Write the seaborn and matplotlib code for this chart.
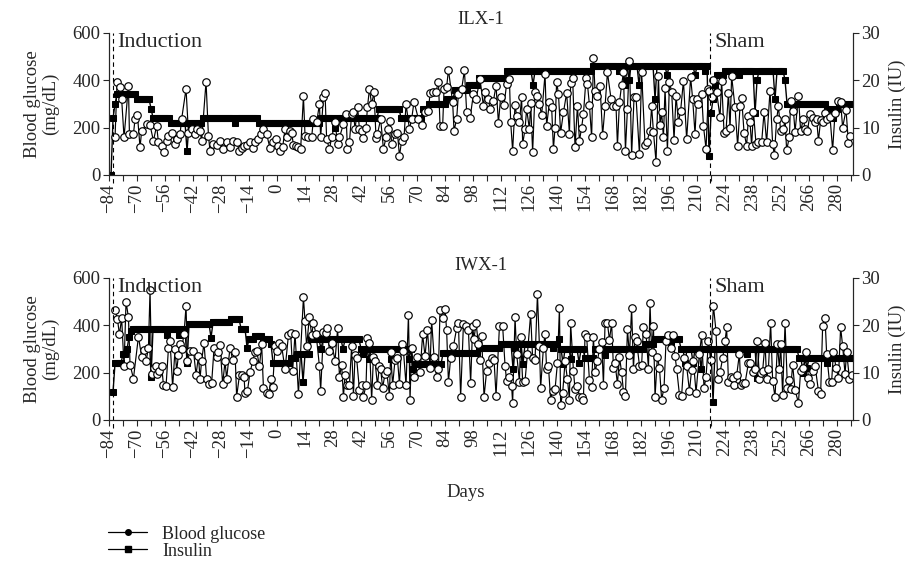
import numpy as np
import matplotlib
matplotlib.use("Agg")
import matplotlib.pyplot as plt
from matplotlib.lines import Line2D
from matplotlib.ticker import MultipleLocator
import seaborn as sns

# Blood glucose (mg/dL) and insulin (IU) per day, two animals: ILX-1 and IWX-1
ilx_day = [-81, -80, -78.5, -77.7, -76.5, -74.3, -73.8, -71.8, -71, -69.8, -68.5, -67.7, -65.2, -63.5,
           -61.8, -60.2, -59.3, -57.7, -56.5, -55.2, -54.3, -52.7, -51, -49.8, -48.5, -47.7, -45.5, -44.3,
           -42.7, -41, -40.2, -38.5, -37.7, -35.5, -34.3, -33.5, -31.8, -30.2, -28.5, -26.8, -25.2, -23.5,
           -21.8, -20.2, -18.8, -17.7, -16.5, -15.2, -13.5, -12.2, -11, -9.3, -8.2, -6.8, -5.2, -3.5, -1.8,
           -0.5, 0.7, 1.5, 2.8, 4, 5.2, 6.5, 7.3, 8.2, 9.5, 10.7, 11.8, 13.2, 14, 15.7, 17.3, 18.2, 19.8,
           21.2, 21.8, 23.2, 24, 24.8, 26.2, 27.3, 29, 30.3, 31.2, 33.2, 34.5, 35.2, 36.2, 37.3, 38.2, 39,
           40.3, 41.2, 42.3, 43.2, 44.5, 45.2, 46.2, 47.3, 48.5, 49.5, 50.2, 51.8, 53.2, 54.5, 55.7, 56.5,
           57.3, 59, 60.2, 61.2, 62.3, 63.5, 64.5, 66.2, 67.3, 68.5, 70.7, 72.3, 74, 75.7, 76.5, 78.2, 79.5,
           80.7, 81.5, 82.8, 83.5, 84.8, 85.7, 87.8, 88.5, 89.8, 90.7, 92.3, 93.7, 94.8, 96.5, 98.2, 99.5,
           101.5, 103.2, 104, 105.7, 106.5, 108.2, 109.5, 110.7, 111.8, 113.5, 114.8, 116.2, 116.8, 117.8,
           119, 119.8, 121.2, 122.3, 122.8, 124, 124.8, 126.2, 126.8, 127.8, 129, 130.2, 131.2, 132.3, 134,
           134.8, 136.2, 137.3, 138.2, 139, 139.8, 140.7, 141.8, 143.2, 144.8, 146.2, 146.8, 147.8, 149,
           150.2, 151.2, 152.3, 153.2, 154.5, 155.2, 156.2, 157.3, 158.2, 159, 160.2, 161.5, 162.8, 164,
           165.2, 167, 168.2, 169.5, 170.2, 171.2, 172.3, 173.2, 174.2, 175.2, 176.2, 177.3, 178.5, 179.5,
           181.2, 182.3, 184, 184.8, 186.5, 187.3, 188.2, 189.5, 190.7, 191.5, 192.3, 193.2, 194, 195.2,
           196.2, 197.3, 198.5, 199.5, 200.7, 201.8, 203.2, 204.8, 206.8, 207.8, 209, 209.8, 210.7, 212.3,
           213.2, 214.5, 215.7, 216.2, 217.3, 218.2, 219.8, 221.5, 222.3, 223.5, 224.5, 225.7, 226.5, 227.3,
           229, 230.3, 231.5, 232.3, 233.5, 234.8, 235.7, 236.5, 237.3, 238.2, 239.5, 240.7, 242.3, 243.5,
           244.8, 246.5, 247.8, 248.7, 249.8, 250.7, 251.8, 253.2, 254, 254.8, 256.2, 256.8, 258.2, 259,
           260.7, 261.8, 263.2, 264, 265.2, 266.5, 267.8, 269, 269.8, 270.7, 271.8, 272.8, 274, 275.2, 276.5,
           277.8, 279, 280.7, 281.8, 282.8, 284.5, 285.7, 286.5]
ilx_glucose = [158, 391, 370, 321, 158, 377, 172, 172, 236, 253, 116, 186, 215, 210,
               144, 208, 137, 123, 97, 144, 165, 179, 130, 151, 172, 236, 363, 179,
               193, 172, 193, 186, 144, 394, 165, 102, 130, 125, 144, 109, 137, 116,
               144, 137, 102, 112, 120, 126, 137, 112, 137, 151, 172, 193, 172, 112, 137,
               151, 123, 102, 116, 193, 158, 186, 179, 126, 120, 116, 109, 332, 165, 158, 158, 236, 222,
               299, 158, 328, 346, 151, 109, 158, 222, 130, 158, 215, 257, 109, 137, 257, 264, 193,
               285, 193, 186, 154, 200, 285, 363, 299, 349, 154, 172, 236, 109, 158, 193, 229,
               130, 172, 179, 80, 144, 158, 299, 193, 236, 309, 236, 210, 264, 271, 346, 349, 352,
               394, 208, 205, 363, 370, 445, 306, 186, 236, 342, 363, 441, 267, 239, 342, 321,
               405, 289, 352, 321, 278, 313, 377, 219, 328, 295, 384, 405, 225, 102,
               295, 250, 222, 328, 130, 193, 278, 193, 304, 97, 352, 335, 299, 253, 426,
               208, 306, 285, 109, 200, 394, 342, 179, 264, 346, 172, 388, 408, 116,
               292, 144, 200, 257, 408, 384, 295, 158, 494, 356, 335, 377, 168, 289,
               433, 321, 289, 289, 123, 306, 380, 433, 102, 278, 483, 83, 328, 328,
               88, 433, 126, 137, 186, 289, 182, 55, 417, 210, 264, 158, 366, 102,
               391, 352, 148, 335, 222, 271, 398, 151, 412, 321, 172, 321, 299, 342,
               208, 109, 363, 356, 328, 402, 349, 243, 398, 179, 186, 346, 196, 417,
               285, 123, 289, 325, 179, 123, 247, 222, 123, 267, 130, 137, 137, 264,
               137, 356, 130, 83, 236, 289, 186, 193, 236, 104, 162, 313, 271, 182,
               332, 186, 236, 193, 186, 257, 239, 222, 236, 144, 233, 222, 261, 236, 243,
               106, 261, 313, 306, 200, 275, 134, 165]

ilx_ins_start = -83
ilx_insulin = ([0, 12, 15] + [17] * 10 + [16] * 7 + [14] + [12] * 9 + [11] * 8 + [5] + [11] * 7
               + [12] * 16 + [11] + [12] * 11 + [11] * 31 + [12] * 7 + [10] + [12] * 21 + [14] * 11
               + [12] * 11 + [14] * 3 + [15] * 9 + [16] * 4 + [18] * 7 + [19] * 5 + [20.5] * 14
               + [22] * 13 + [19] + [22] * 29 + [23] * 13 + [22] + [23] * 2 + [19] + [23] + [20]
               + [23] * 4 + [19] + [23] * 7 + [16] + [23] * 5 + [21] + [23] * 13 + [21] + [23] * 4
               + [22] + [23] + [4] + [13] + [16] + [19] + [21] * 4 + [22] * 7 + [21] + [22] * 7
               + [13] + [20] + [22] * 8 + [16] + [22] * 4 + [20] + [15] * 20 + [14] * 3 + [12]
               + [14] * 2 + [15] * 7)

iwx_day = [-81, -79.8, -78.8, -77.7, -76.5, -75.5, -74.3, -73.5, -71.8, -69.3, -67.7, -66.5, -65.5, -64.3,
           -63.5, -62.7, -61.5, -60.5, -59.8, -58.8, -57.7, -56.8, -55.5, -54.3, -53.5, -52.2, -51, -50.2,
           -49.3, -48.5, -47.7, -46.5, -45.5, -44.8, -43.5, -41.8, -40.5, -39.3, -38.5, -37.7, -36.5, -35.2,
           -33.8, -32.7, -31.5, -30.2, -29.3, -28.5, -27.2, -26, -25.2, -23.5, -22.2, -21, -20.2, -18.8,
           -17.7, -16.5, -16, -14.8, -13.5, -12.2, -11, -10.2, -8.8, -7.7, -6.8, -5.2, -3.8, -3.2, -2.2, -1,
           -0.2, 1.2, 2.3, 4, 5.7, 6.8, 7.8, 9, 10.7, 13.2, 14, 14.8, 16.2, 17.3, 18.2, 19.5, 21.2, 21.8,
           23.2, 24.5, 25.2, 26.2, 27.3, 29, 30.3, 31.2, 32.3, 33.2, 34, 35.2, 36.2, 37.3, 38.2, 39, 39.8,
           41.2, 42.3, 43.2, 44.5, 45.2, 46.2, 47.3, 48.2, 49, 50.2, 51.2, 51.8, 52.8, 54, 54.8, 56.2, 56.8,
           57.8, 59, 60.2, 61.2, 62.3, 63.2, 64.5, 65.7, 66.5, 67.3, 68.5, 69.8, 71.5, 72.8, 74, 75.2, 76.5,
           77.3, 78.5, 79.8, 80.7, 81.5, 83.2, 84, 84.8, 85.7, 86.8, 88.2, 89.8, 90.7, 91.8, 93.2, 94.5,
           95.7, 96.8, 97.8, 98.5, 99.5, 100.7, 101.5, 102.3, 103.5, 104.8, 106.2, 107.3, 108.5, 109.5,
           111.2, 112.8, 114, 114.8, 116.2, 117.3, 117.8, 119, 119.8, 121.2, 121.8, 122.8, 124, 125.2,
           126.8, 127.8, 129, 130.2, 131.2, 131.8, 133.2, 134, 134.8, 135.7, 136.8, 137.8, 139, 140.2,
           141.2, 141.8, 142.8, 144, 145.2, 146.2, 146.8, 148.2, 149, 150.2, 151.2, 152.3, 153.2, 154,
           154.8, 156.2, 157.3, 158.2, 159, 160.2, 161.2, 162.3, 163.2, 164, 165.2, 166.2, 167.3, 168.2,
           169, 170.2, 171.2, 172.3, 173.2, 174.2, 175.2, 176.2, 177.3, 178.2, 179, 179.8, 181.2, 182.3,
           183.2, 184.5, 185.7, 186.5, 187.3, 188.2, 189, 190.2, 191.2, 192.3, 193.5, 194.5, 195.7, 196.8,
           197.8, 199, 199.8, 201.2, 202.3, 203.5, 204.8, 206.2, 207.3, 208.2, 209.5, 211.2, 212.3, 213.5,
           214.5, 215.7, 216.8, 218.2, 219.5, 220.3, 221.5, 222.8, 224, 224.8, 225.7, 226.8, 227.8, 228.7,
           229.8, 231.2, 231.8, 232.8, 234, 235.7, 236.5, 237.8, 239, 240.2, 241.2, 241.8, 242.8, 244,
           244.8, 245.7, 246.8, 247.8, 249, 250.2, 251.2, 251.8, 252.8, 254, 255.2, 256.2, 256.8, 257.8,
           259, 260.7, 261.8, 263.2, 264.5, 265.7, 266.5, 267.8, 269, 270.7, 271.8, 272.8, 274, 274.8,
           276.2, 277.3, 278.2, 279.5, 280.7, 281.8, 282.8, 284, 284.8, 286.2, 287.3]
iwx_glucose = [465, 426, 361, 430, 227, 499, 434, 234, 175, 352, 267, 295, 247, 306,
               548, 195, 221, 230, 195, 208, 227, 149, 143, 303, 332, 139, 299, 208,
               273, 319, 299, 365, 482, 247, 293, 293, 191, 269, 175, 251, 325, 173,
               152, 156, 303, 267, 286, 316, 152, 247, 175, 306, 254, 286, 99, 188,
               191, 182, 112, 123, 201, 247, 286, 293, 227, 319, 136, 116, 110, 175, 139, 312,
               293, 325, 312, 214, 358, 369, 208, 365, 110, 518, 417, 312, 437, 358, 408, 365, 227, 123,
               371, 369, 387, 290, 325, 251, 387, 182, 234, 97, 191, 147, 149, 312, 103, 273, 260,
               126, 147, 97, 149, 345, 325, 84, 267, 247, 147, 230, 214, 136, 195, 208, 103, 286,
               147, 254, 260, 152, 319, 293, 147, 443, 86, 306, 182, 264, 201, 361, 269, 382, 221,
               421, 267, 182, 214, 463, 430, 469, 378, 160, 260, 312, 387, 408, 97, 404, 397,
               378, 156, 395, 343, 410, 319, 254, 356, 97, 208, 241, 260, 254, 103,
               395, 397, 230, 165, 182, 143, 71, 434, 280, 162, 352, 162, 165, 280,
               447, 260, 254, 531, 312, 136, 306, 365, 214, 227, 86, 123, 129, 241,
               473, 64, 112, 247, 173, 86, 408, 208, 129, 143, 99, 97, 86, 365,
               352, 169, 139, 352, 201, 251, 299, 329, 149, 408, 408, 339, 408, 221,
               241, 152, 267, 201, 120, 103, 384, 273, 473, 214, 352, 332, 230, 234,
               391, 365, 217, 492, 286, 397, 97, 267, 221, 86, 136, 335, 358, 306,
               358, 269, 217, 107, 103, 260, 227, 123, 212, 247, 116, 280, 358, 133,
               182, 332, 254, 482, 374, 173, 201, 260, 332, 391, 162, 182, 178, 149,
               188, 280, 149, 156, 156, 241, 241, 201, 214, 332, 175, 199, 208, 325,
               175, 217, 410, 165, 97, 319, 217, 322, 107, 408, 136, 169, 129, 234,
               126, 73, 208, 221, 286, 178, 152, 208, 230, 123, 110, 397, 430, 280,
               162, 162, 286, 221, 178, 391, 312, 195, 286, 175, 191]

iwx_ins_start = -82
iwx_insulin = ([6] + [12] * 4 + [14] * 2 + [15] + [17.5] + [18.7] + [19.3] * 9 + [9] + [19.3] * 7
               + [18] + [19.3] * 5 + [18] + [19.3] * 3 + [12] + [20.2] * 11 + [17.4] + [20.6] * 9
               + [21.3] * 5 + [19.3] * 3 + [15.3] + [17] * 3 + [17.7] * 4 + [17] * 4 + [16] + [12] * 9
               + [13] * 3 + [14] * 3 + [8] + [14] * 3 + [17] * 5 + [15] + [17] * 10 + [15] + [17] * 8
               + [15] + [14] + [15] * 2 + [12.8] + [15] * 10 + [12.8] + [15] * 8 + [12.8] + [15]
               + [10.8] + [11.8] * 14 + [14.1] * 18 + [15.1] * 11 + [16.1] * 6 + [10.8] + [15.1]
               + [16.1] * 3 + [11.9] + [16.1] * 14 + [15.1] + [16.1] * 2 + [17] + [15] + [11.9]
               + [15] * 3 + [12.8] + [15] * 3 + [12.1] + [15] * 2 + [13] * 5 + [15] * 5 + [13.7]
               + [15] * 19 + [16.1] * 5 + [17] * 8 + [16.1] + [17] * 4 + [15] * 2 + [12.1] + [15] * 3
               + [12.1] + [15] * 3 + [10.8] + [15] * 5 + [3.8] + [15] * 16 + [14] + [15] * 4 + [8.9]
               + [15] * 20 + [13] * 2 + [10] + [13] + [11] + [13] * 9 + [12.1] + [13] * 14)

panels = [("ILX-1", ilx_day, ilx_glucose, ilx_ins_start, ilx_insulin),
          ("IWX-1", iwx_day, iwx_glucose, iwx_ins_start, iwx_insulin)]
induction_day = -82
sham_day = 216.5

sns.set_style("ticks")
plt.rcParams["font.family"] = ["Liberation Serif", "DejaVu Serif"]
plt.rcParams["axes.linewidth"] = 0.8
plt.rcParams["xtick.major.width"] = 0.8
plt.rcParams["ytick.major.width"] = 0.8
plt.rcParams["xtick.minor.width"] = 0.8
plt.rcParams["xtick.direction"] = "out"
plt.rcParams["ytick.direction"] = "out"

fig = plt.figure(figsize=(9.14, 5.66), dpi=100)
boxes = [[0.1193, 0.691, 0.814, 0.251], [0.1193, 0.258, 0.814, 0.251]]

for box, (name, gday, glu, istart, ins) in zip(boxes, panels):
    ax = fig.add_axes(box)
    axr = ax.twinx()
    iday = np.arange(istart, istart + len(ins))

    sns.lineplot(x=iday, y=ins, ax=axr, color="black", lw=1.0, marker="s", markersize=4.8,
                 markeredgecolor="black", markerfacecolor="black", estimator=None, sort=False)
    sns.lineplot(x=gday, y=glu, ax=ax, color="black", lw=0.85, marker="o", markersize=5.4,
                 markerfacecolor="white", markeredgecolor="black", markeredgewidth=0.85,
                 estimator=None, sort=False)
    ax.set_zorder(axr.get_zorder() + 1)
    ax.patch.set_visible(False)

    ax.set_xlim(-84, 288)
    ax.set_ylim(0, 600)
    axr.set_ylim(0, 30)
    ax.set_yticks([0, 200, 400, 600])
    axr.set_yticks([0, 10, 20, 30])
    ax.xaxis.set_major_locator(MultipleLocator(14))
    ax.xaxis.set_minor_locator(MultipleLocator(7))
    ax.set_xticks(np.arange(-84, 281, 14))
    ax.tick_params(axis="x", which="both", length=4, labelsize=13.5, rotation=90, pad=2)
    ax.tick_params(axis="y", length=4, labelsize=13.5, pad=2)
    axr.tick_params(axis="y", length=4, labelsize=13.5, pad=2)
    ax.set_xlabel("")
    ax.set_ylabel("Blood glucose\n(mg/dL)", fontsize=13.5, linespacing=1.0, labelpad=10)
    axr.set_ylabel("Insulin (IU)", fontsize=13.5, labelpad=6)
    for a in (ax, axr):
        a.spines["top"].set_visible(False)
    ax.set_title(name, fontsize=13.5, pad=6)

    for d, label in [(induction_day, "Induction"), (sham_day, "Sham")]:
        ax.axvline(d, ymin=-0.06, ymax=1.0, color="black", lw=0.8, ls=(0, (4, 3)), clip_on=False)
        ax.text(d + 2, 560, label, fontsize=16, ha="left", va="center")

fig.text(0.509, 0.129, "Days", fontsize=13.5, ha="center", va="center")

handles = [Line2D([], [], color="black", lw=0.9, marker="o", markersize=4),
           Line2D([], [], color="black", lw=0.9, marker="s", markersize=4)]
fig.legend(handles, ["Blood glucose", "Insulin"], loc="upper left", bbox_to_anchor=(0.108, 0.087),
           frameon=False, fontsize=13, handlelength=2.2, handletextpad=0.8, labelspacing=0.0,
           borderpad=0)

fig.savefig("out.png", dpi=100)
